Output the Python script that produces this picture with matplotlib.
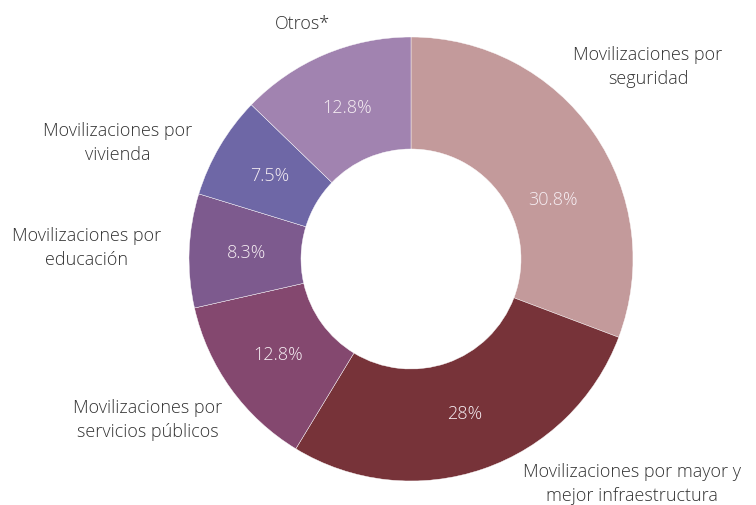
import matplotlib.pyplot as plt

labels = [
    "Movilizaciones por\nseguridad",
    "Movilizaciones por mayor y\nmejor infraestructura",
    "Movilizaciones por\nservicios públicos",
    "Movilizaciones por\neducación",
    "Movilizaciones por\nvivienda",
    "Otros*",
]
values = [30.8, 28, 12.8, 8.3, 7.5, 12.8]
pct_text = ["30.8%", "28%", "12.8%", "8.3%", "7.5%", "12.8%"]
colors = ["#c39a9b", "#773339", "#84486f", "#7d5a8e", "#6e67a6", "#a183b0"]

# outside label anchors (pixel coords, y from bottom)
label_pos = [(648, 438), (632, 21), (148, 85), (87, 257), (118, 362), (302, 481)]

plt.rcParams["font.family"] = ["Open Sans", "DejaVu Sans"]

fig = plt.figure(figsize=(7.56, 5.05), dpi=100)
ax = fig.add_axes([0, 0, 1, 1])

wedges, texts, autotexts = ax.pie(
    values, colors=colors, startangle=90, counterclock=False,
    center=(411, 246), radius=222, frame=True,
    autopct=lambda p: "", pctdistance=0.74,
    wedgeprops=dict(width=112, edgecolor="white", linewidth=0.3),
)
ax.set_xlim(0, 756)
ax.set_ylim(0, 505)
ax.axis("off")

for t, s in zip(autotexts, pct_text):
    t.set_text(s)
    t.set_color("#f6eef3")
    t.set_fontsize(13)
    t.set_fontweight("light")
autotexts[0].set_position((553, 305))

for lab, (x, y) in zip(labels, label_pos):
    ax.text(x, y, lab, ha="center", va="center", fontsize=13,
            fontweight="light", color="#333333", linespacing=1.4)

fig.savefig("out.png", dpi=100)
